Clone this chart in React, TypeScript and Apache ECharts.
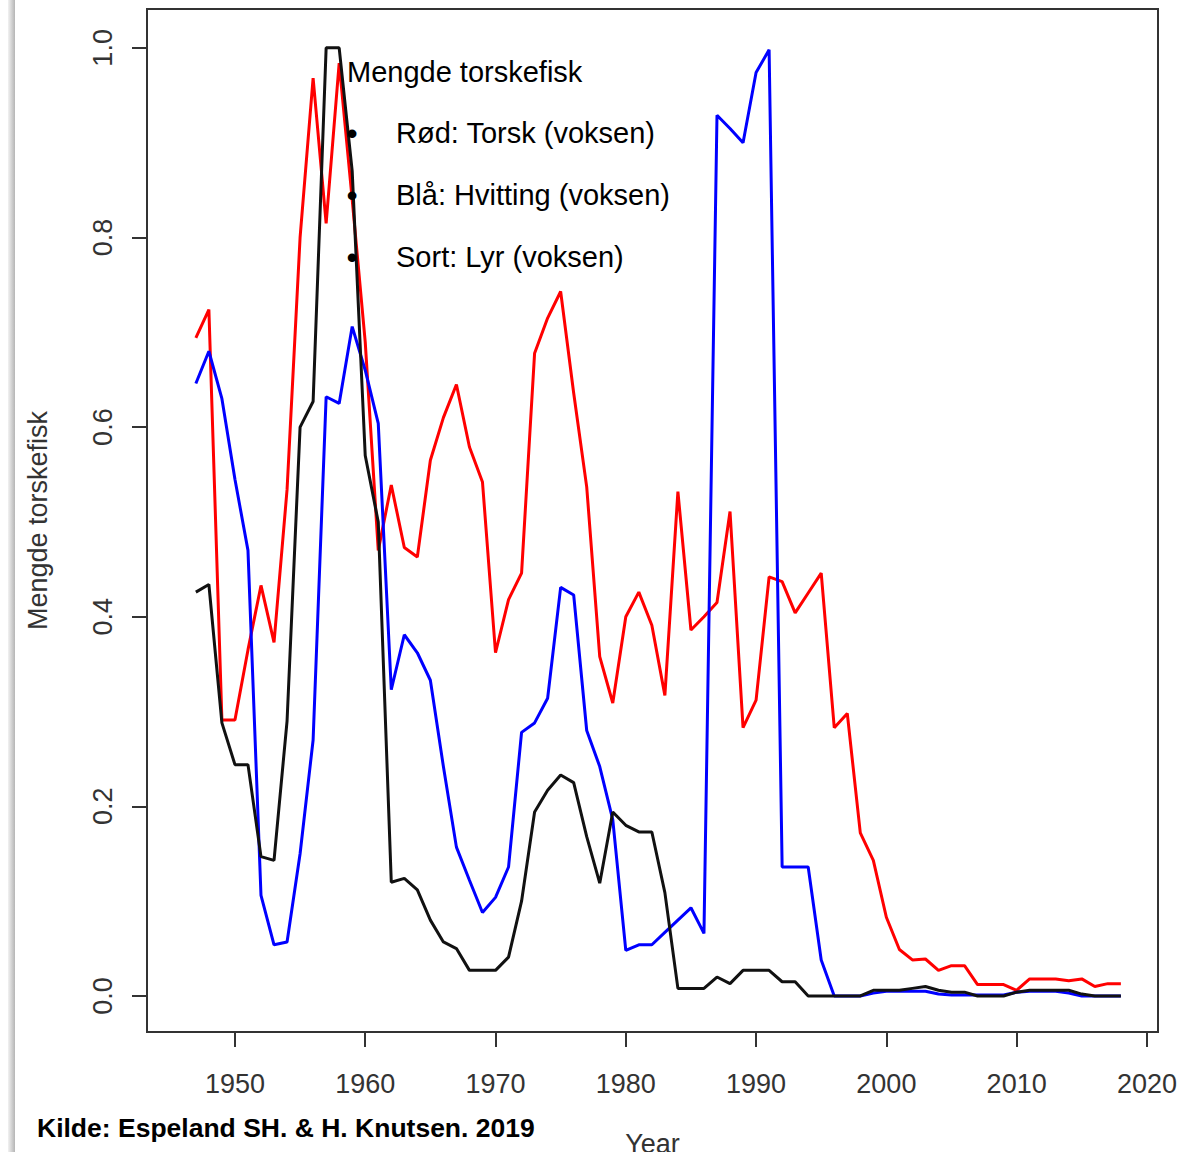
import React, { useEffect, useRef } from "react";
import * as echarts from "echarts";

const years = [
  1947, 1948, 1949, 1950, 1951, 1952, 1953, 1954, 1955, 1956, 1957, 1958, 1959, 1960, 1961, 1962, 1963, 1964,
  1965, 1966, 1967, 1968, 1969, 1970, 1971, 1972, 1973, 1974, 1975, 1976, 1977, 1978, 1979, 1980, 1981, 1982,
  1983, 1984, 1985, 1986, 1987, 1988, 1989, 1990, 1991, 1992, 1993, 1994, 1995, 1996, 1997, 1998, 1999, 2000,
  2001, 2002, 2003, 2004, 2005, 2006, 2007, 2008, 2009, 2010, 2011, 2012, 2013, 2014, 2015, 2016, 2017, 2018,
];

// Rød: Torsk (voksen)
const torsk = [
  0.694, 0.724, 0.291, 0.291, 0.365, 0.433, 0.373, 0.534, 0.8, 0.968, 0.815, 0.984, 0.84, 0.69, 0.47, 0.539, 0.473, 0.463,
  0.565, 0.61, 0.645, 0.579, 0.542, 0.362, 0.418, 0.446, 0.678, 0.715, 0.743, 0.636, 0.537, 0.358, 0.309, 0.4, 0.426, 0.391,
  0.317, 0.532, 0.386, 0.4, 0.415, 0.511, 0.283, 0.312, 0.442, 0.437, 0.404, 0.425, 0.446, 0.283, 0.298, 0.172, 0.143, 0.083,
  0.049, 0.038, 0.039, 0.027, 0.032, 0.032, 0.012, 0.012, 0.012, 0.006, 0.018, 0.018, 0.018, 0.016, 0.018, 0.01, 0.013, 0.013,
];

// Blå: Hvitting (voksen)
const hvitting = [
  0.646, 0.68, 0.63, 0.545, 0.47, 0.106, 0.054, 0.057, 0.15, 0.27, 0.632, 0.625, 0.706, 0.66, 0.604, 0.323, 0.381, 0.362,
  0.333, 0.242, 0.157, 0.122, 0.088, 0.104, 0.136, 0.278, 0.288, 0.314, 0.431, 0.423, 0.28, 0.242, 0.186, 0.048, 0.054, 0.054,
  0.067, 0.08, 0.093, 0.066, 0.929, 0.915, 0.9, 0.974, 0.998, 0.136, 0.136, 0.136, 0.038, 0.0, 0.0, 0.0, 0.003, 0.005,
  0.005, 0.005, 0.005, 0.002, 0.001, 0.001, 0.001, 0.001, 0.001, 0.004, 0.005, 0.005, 0.005, 0.003, 0.0, 0.0, 0.0, 0.0,
];

// Sort: Lyr (voksen)
const lyr = [
  0.426, 0.434, 0.288, 0.244, 0.244, 0.147, 0.143, 0.29, 0.6, 0.627, 1.0, 1.0, 0.87, 0.57, 0.5, 0.12, 0.124, 0.112,
  0.08, 0.057, 0.05, 0.027, 0.027, 0.027, 0.041, 0.1, 0.194, 0.217, 0.233, 0.225, 0.168, 0.119, 0.194, 0.18, 0.173, 0.173,
  0.109, 0.008, 0.008, 0.008, 0.02, 0.013, 0.027, 0.027, 0.027, 0.015, 0.015, 0.0, 0.0, 0.0, 0.0, 0.0, 0.006, 0.006,
  0.006, 0.008, 0.01, 0.006, 0.004, 0.004, 0.0, 0.0, 0.0, 0.004, 0.006, 0.006, 0.006, 0.006, 0.002, 0.0, 0.0, 0.0,
];

const xTicks = [1950, 1960, 1970, 1980, 1990, 2000, 2010, 2020];
const yTicks = [0, 0.2, 0.4, 0.6, 0.8, 1.0];

const legendTitle = "Mengde torskefisk";
const legendItems = ["Rød: Torsk (voksen)", "Blå: Hvitting (voksen)", "Sort: Lyr (voksen)"];
const sourceText = "Kilde: Espeland SH. & H. Knutsen. 2019";

const FONT = "Liberation Sans, Arial, Helvetica, sans-serif";

export default function App() {
  const ref = useRef<HTMLDivElement>(null);

  useEffect(() => {
    if (!ref.current) return;
    const chart = echarts.init(ref.current, undefined, { renderer: "svg" });

    const mk = (name: string, vals: number[], color: string) => ({
      name,
      type: "line",
      data: years.map((y, i) => [y, vals[i]]),
      showSymbol: false,
      symbol: "none",
      lineStyle: { color, width: 3 },
      itemStyle: { color },
      z: 2,
    });

    const legendGraphics: any[] = [
      {
        type: "text",
        x: 347,
        y: 72,
        style: { text: legendTitle, font: `29px ${FONT}`, fill: "#000", textVerticalAlign: "middle", textAlign: "left" },
        z: 10,
      },
    ];
    const legendYs = [133, 195, 257];
    legendItems.forEach((t, i) => {
      legendGraphics.push({
        type: "text",
        x: 352,
        y: legendYs[i],
        style: { text: "•", font: `32px ${FONT}`, fill: "#000", textVerticalAlign: "middle", textAlign: "center" },
        z: 10,
      });
      legendGraphics.push({
        type: "text",
        x: 396,
        y: legendYs[i],
        style: { text: t, font: `29px ${FONT}`, fill: "#000", textVerticalAlign: "middle", textAlign: "left" },
        z: 10,
      });
    });

    const option: any = {
      animation: false,
      backgroundColor: "#ffffff",
      textStyle: { fontFamily: FONT },
      grid: {
        left: 147,
        top: 9,
        width: 1011,
        height: 1023,
        show: true,
        borderColor: "#333",
        borderWidth: 2,
        backgroundColor: "transparent",
        outerBoundsMode: "none",
        containLabel: false,
      },
      xAxis: {
        type: "value",
        min: 1943.25,
        max: 2020.85,
        name: "Year",
        nameLocation: "middle",
        nameGap: 98,
        nameTextStyle: { fontSize: 27, color: "#333", fontFamily: FONT },
        axisLine: { show: false, onZero: false },
        axisTick: { show: true, length: 15, lineStyle: { color: "#333", width: 2 }, customValues: xTicks },
        axisLabel: {
          customValues: xTicks,
          fontSize: 27,
          color: "#333",
          margin: 38,
          formatter: (v: number) => String(Math.round(v)),
        },
        splitLine: { show: false },
      },
      yAxis: {
        type: "value",
        min: -0.038,
        max: 1.041,
        name: "Mengde torskefisk",
        nameLocation: "middle",
        nameRotate: 90,
        nameGap: 96,
        nameTextStyle: { fontSize: 27, color: "#333", fontFamily: FONT },
        axisLine: { show: false, onZero: false },
        axisTick: { show: true, length: 15, lineStyle: { color: "#333", width: 2 }, customValues: yTicks },
        axisLabel: {
          customValues: yTicks,
          rotate: 90,
          fontSize: 27,
          color: "#333",
          margin: 31,
          formatter: (v: number) => v.toFixed(1),
        },
        splitLine: { show: false },
      },
      graphic: [
        {
          type: "rect",
          x: 8,
          y: 0,
          shape: { width: 7, height: 1152 },
          style: {
            fill: new echarts.graphic.LinearGradient(0, 0, 1, 0, [
              { offset: 0, color: "#f2f2f2" },
              { offset: 1, color: "#b5b5b5" },
            ]),
          },
          z: 1,
        },
        ...legendGraphics,
        {
          type: "text",
          x: 37,
          y: 1128,
          style: {
            text: sourceText,
            font: `bold 26.5px ${FONT}`,
            fill: "#000",
            textVerticalAlign: "middle",
            textAlign: "left",
          },
          z: 10,
        },
      ],
      series: [mk("Torsk", torsk, "#ff0000"), mk("Hvitting", hvitting, "#0000ff"), mk("Lyr", lyr, "#111111")],
    };

    chart.setOption(option);
    return () => chart.dispose();
  }, []);

  return (
    <div
      ref={ref}
      style={{ position: "absolute", left: 0, top: 0, width: 1180, height: 1152, background: "#fff" }}
    />
  );
}
